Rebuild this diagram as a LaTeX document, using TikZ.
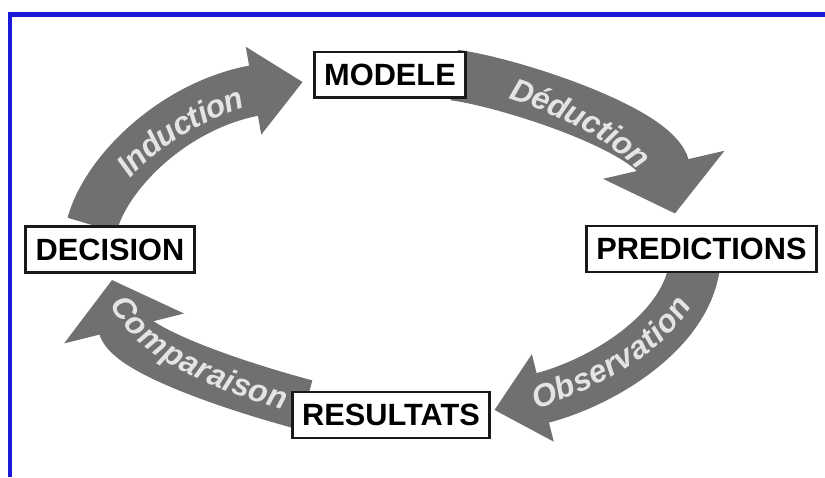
\documentclass[tikz,border=0pt]{standalone}
\usepackage{fontspec}
\setmainfont{Liberation Sans}
\usetikzlibrary{arrows.meta,calc,decorations.text,backgrounds}
\definecolor{bleu}{RGB}{25,25,215}
\definecolor{grisfleche}{RGB}{112,112,112}
\definecolor{grisclair}{RGB}{228,228,228}
\newcommand{\etiq}{\bfseries\itshape\fontsize{18}{20}\selectfont}

\begin{document}
\begin{tikzpicture}[x=0.02cm,y=0.02cm]
	\tikzset{boite/.style={draw=black!90, line width=1.7pt, fill=white, minimum height=0.92cm, inner xsep=0.2cm, font=\bfseries\fontsize{17.5}{20}\selectfont},
		fleche/.style={line width=1.02cm, draw=grisfleche, -{Triangle[length=1cm,width=#1]}},
		flecheR/.style={line width=1.02cm, draw=grisfleche, {Triangle[length=1cm,width=#1]}-},
		texte/.style={postaction={decorate, decoration={text along path, text align=center, raise=-6pt, text color=grisclair, text={|\etiq|#1}}}}};
	\useasboundingbox (0,0) rectangle (825,477);
	\draw[bleu, line width=0.1cm] (10,0) -- (10,462) -- (825,462);
	\node[boite] (modele) at (390,402) {MODELE};
	\node[boite] (decision) at (110,227.5) {DECISION};
	\node[boite] (predictions) at (701.5,228) {PREDICTIONS};
	\node[boite] (resultats) at (391,62) {RESULTATS};
	\begin{scope}[on background layer]
		\draw[fleche=1.72cm, texte=Induction] ($(decision.north)+(-18,0)$) .. controls +(75:55) and +(190:130) .. ($(modele.west)+(-10,-7)$);
		\draw[fleche=2.44cm, texte=Déduction] ($(modele.east)+(-13,0)$) .. controls +(-8:60) and +(103:85) .. ($(predictions.north)+(-26.5,11)$);
		\draw[flecheR=1.74cm, texte=Observation] ($(resultats.east)+(3,5)$) .. controls +(14:110) and +(-95:70) .. ($(predictions.south)+(-6.5,12)$);
		\draw[flecheR=2.42cm, texte=Comparaison] ($(decision.south)+(2,-6)$) .. controls +(-76:70) and +(165:90) .. ($(resultats.west)+(15,10)$);
	\end{scope}
\end{tikzpicture}
\end{document}
